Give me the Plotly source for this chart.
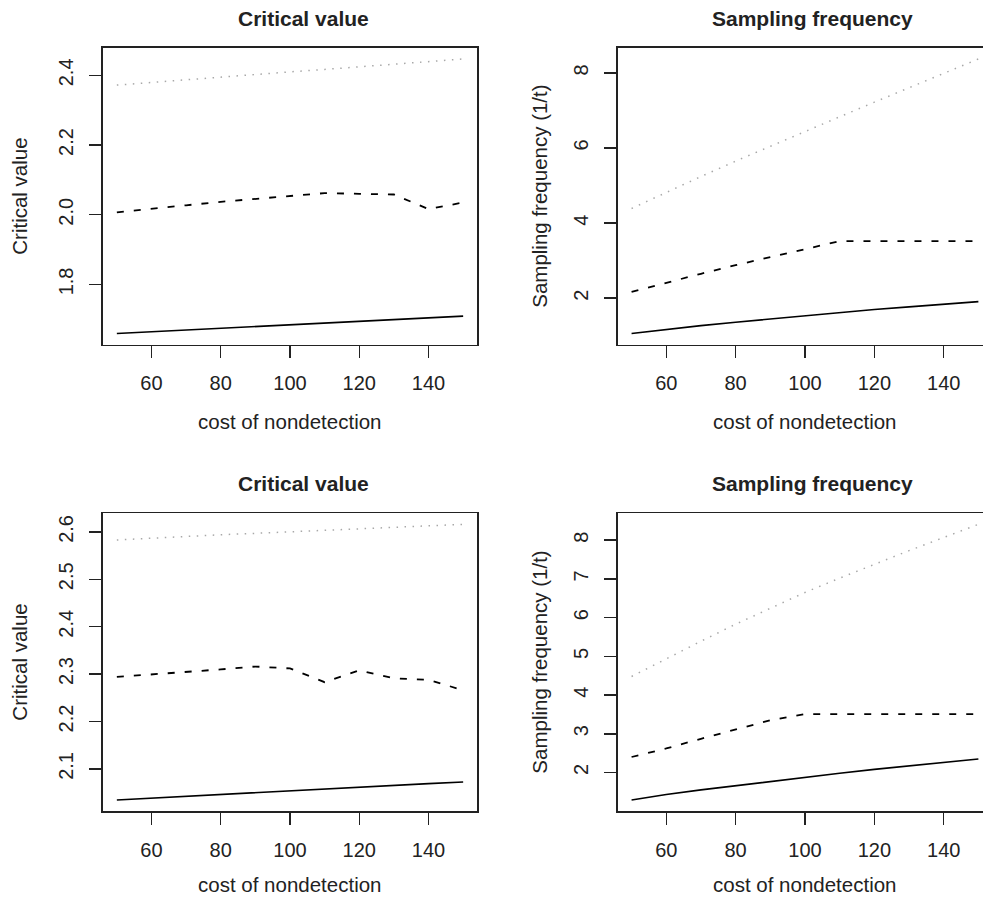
import plotly.graph_objects as go

W, H = 983, 897

cost = [50, 60, 70, 80, 90, 100, 110, 120, 130, 140, 150]

# Panel 1 (top-left): Critical value
cv1_solid = [1.659, 1.664, 1.669, 1.674, 1.679, 1.684, 1.689, 1.694, 1.699, 1.704, 1.709]
cv1_dash = [2.007, 2.018, 2.027, 2.037, 2.046, 2.055, 2.062, 2.060, 2.058, 2.016, 2.035]
cv1_dot = [2.372, 2.380, 2.388, 2.396, 2.403, 2.410, 2.417, 2.424, 2.431, 2.439, 2.447]

# Panel 2 (top-right): Sampling frequency
sf1_solid = [1.06, 1.17, 1.27, 1.36, 1.45, 1.54, 1.62, 1.70, 1.77, 1.84, 1.91]
sf1_dash = [2.17, 2.42, 2.65, 2.88, 3.10, 3.32, 3.52, 3.52, 3.52, 3.52, 3.52]
sf1_dot = [4.39, 4.82, 5.24, 5.65, 6.05, 6.44, 6.83, 7.22, 7.61, 7.99, 8.37]

# Panel 3 (bottom-left): Critical value
cv2_solid = [2.0345, 2.0385, 2.0425, 2.0465, 2.0500, 2.0535, 2.0570, 2.0610, 2.0650, 2.0690, 2.0725]
cv2_dash = [2.294, 2.299, 2.304, 2.310, 2.316, 2.312, 2.283, 2.308, 2.291, 2.288, 2.266]
cv2_dot = [2.583, 2.587, 2.590, 2.594, 2.597, 2.600, 2.603, 2.606, 2.609, 2.613, 2.616]

# Panel 4 (bottom-right): Sampling frequency
sf2_solid = [1.29, 1.43, 1.55, 1.66, 1.77, 1.88, 1.98, 2.08, 2.17, 2.26, 2.35]
sf2_dash = [2.40, 2.62, 2.87, 3.12, 3.35, 3.51, 3.51, 3.51, 3.51, 3.51, 3.51]
sf2_dot = [4.48, 4.94, 5.39, 5.83, 6.25, 6.65, 7.02, 7.38, 7.73, 8.07, 8.41]

x_ticks = [60, 80, 100, 120, 140]
y_ticks = [
    [1.8, 2.0, 2.2, 2.4],
    [2, 4, 6, 8],
    [2.1, 2.2, 2.3, 2.4, 2.5, 2.6],
    [2, 3, 4, 5, 6, 7, 8],
]
y_tick_text = [
    ["1.8", "2.0", "2.2", "2.4"],
    ["2", "4", "6", "8"],
    ["2.1", "2.2", "2.3", "2.4", "2.5", "2.6"],
    ["2", "3", "4", "5", "6", "7", "8"],
]
main_titles = ["Critical value", "Sampling frequency", "Critical value", "Sampling frequency"]
y_titles = ["Critical value", "Sampling frequency (1/t)", "Critical value", "Sampling frequency (1/t)"]
x_title = "cost of nondetection"

panels = [
    (cv1_solid, cv1_dash, cv1_dot),
    (sf1_solid, sf1_dash, sf1_dot),
    (cv2_solid, cv2_dash, cv2_dot),
    (sf2_solid, sf2_dash, sf2_dot),
]

FONT = "Liberation Sans, Arial, Helvetica, sans-serif"
INK = "#222222"

# pixel layout of plot boxes (left, right, top, bottom)
boxes = [
    (103, 477, 48, 344.5),
    (617.7, 983, 48, 344.5),
    (103, 477, 513.3, 811),
    (617.7, 983, 513.3, 811),
]
x_ranges = [[46, 154], [46, 151.33], [46, 154], [46, 151.33]]

fig = go.Figure()
layout = dict(
    width=W, height=H,
    margin=dict(l=0, r=0, t=0, b=0),
    paper_bgcolor="white", plot_bgcolor="white",
    showlegend=False,
    font=dict(family=FONT, color=INK, size=20),
)
annotations = []

for i, (solid, dash, dot) in enumerate(panels):
    xa = "x" if i == 0 else f"x{i+1}"
    ya = "y" if i == 0 else f"y{i+1}"
    common = dict(x=cost, xaxis=xa, yaxis=ya, mode="lines", hoverinfo="skip")
    fig.add_trace(go.Scatter(y=dot, line=dict(color="#a8a8a8", width=1.5, dash="1.5px,6.5px"), **common))
    fig.add_trace(go.Scatter(y=dash, line=dict(color="black", width=1.8, dash="7px,10px"), **common))
    fig.add_trace(go.Scatter(y=solid, line=dict(color="black", width=1.6), **common))

    allv = solid + dash + dot
    lo, hi = min(allv), max(allv)
    span = hi - lo
    yr = [lo - 0.04 * span, hi + 0.04 * span]

    L, R, T, B = boxes[i]
    right_panel = i in (1, 3)
    layout["xaxis" if i == 0 else f"xaxis{i+1}"] = dict(
        domain=[L / W, R / W], range=x_ranges[i], anchor=ya,
        tickvals=x_ticks, ticks="outside", ticklen=12, tickwidth=1.5, tickcolor=INK,
        showline=True, mirror=True, linewidth=1.6, linecolor=INK,
        showgrid=False, zeroline=False, tickfont=dict(size=20, family=FONT, color=INK),
        ticklabelstandoff=8,
    )
    layout["yaxis" if i == 0 else f"yaxis{i+1}"] = dict(
        domain=[1 - B / H, 1 - T / H], range=yr, anchor=xa,
        tickvals=y_ticks[i], ticktext=y_tick_text[i], tickangle=-90,
        ticks="outside", ticklen=12, tickwidth=1.5, tickcolor=INK,
        showline=True, mirror=(not right_panel), linewidth=1.6, linecolor=INK,
        showgrid=False, zeroline=False, tickfont=dict(size=20, family=FONT, color=INK),
        ticklabelstandoff=8,
    )

    # main title
    title_x = 303.7 if i in (0, 2) else 812
    annotations.append(dict(
        text=f"<b>{main_titles[i]}</b>", xref="paper", yref="paper",
        x=title_x / W, y=1 - (T - 16) / H, xanchor="center", yanchor="bottom",
        showarrow=False, font=dict(size=21, family=FONT, color=INK),
    ))
    # x axis title
    annotations.append(dict(
        text=x_title, xref="paper", yref="paper",
        x=((L + (R if not right_panel else 992)) / 2) / W,
        y=1 - (B + (90 if i < 2 else 87)) / H,
        xanchor="center", yanchor="bottom",
        showarrow=False, font=dict(size=20.5, family=FONT, color=INK),
    ))
    # y axis title
    yt_x = 6 if not right_panel else 526
    annotations.append(dict(
        text=y_titles[i], xref="paper", yref="paper", textangle=-90,
        x=yt_x / W, y=1 - ((T + B) / 2) / H,
        xanchor="left", yanchor="middle",
        showarrow=False, font=dict(size=20.5, family=FONT, color=INK),
    ))

layout["annotations"] = annotations
fig.update_layout(**layout)
fig.write_html(
    "out.html",
    config={"displayModeBar": False, "staticPlot": True},
    post_script="document.body.style.margin='0';document.body.style.overflow='hidden';",
)
